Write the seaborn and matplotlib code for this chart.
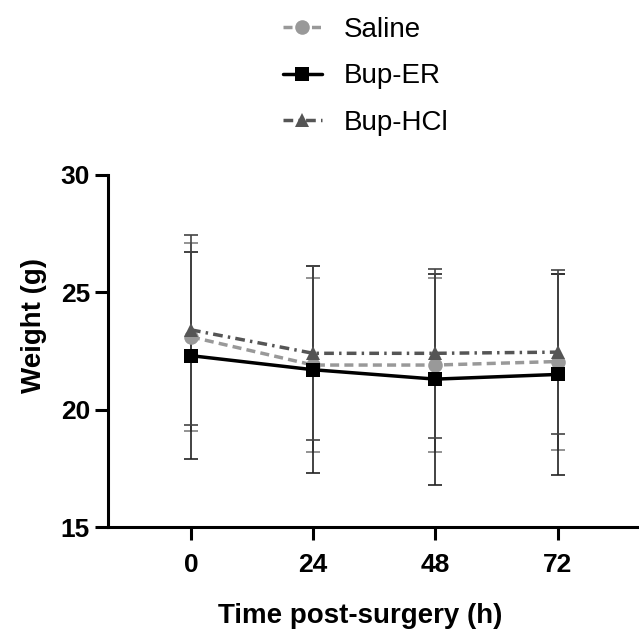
import numpy as np
import pandas as pd
import matplotlib
matplotlib.use("Agg")
import matplotlib.pyplot as plt
import seaborn as sns

# values (mean +/- SD)
times = [0, 24, 48, 72]
groups = ["Saline", "Bup-ER", "Bup-HCl"]
saline_mean = [23.1, 21.9, 21.9, 22.05]
saline_sd = [4.0, 3.7, 3.7, 3.75]
bup_er_mean = [22.3, 21.7, 21.3, 21.5]
bup_er_sd = [4.4, 4.4, 4.5, 4.3]
bup_hcl_mean = [23.4, 22.4, 22.4, 22.45]
bup_hcl_sd = [4.05, 3.7, 3.6, 3.5]
y_ticks = [15, 20, 25, 30]

sns.set_style("ticks")
plt.rcParams['font.family'] = ['Liberation Sans', 'DejaVu Sans']
plt.rcParams['text.color'] = 'black'
plt.rcParams['axes.labelcolor'] = 'black'
plt.rcParams['xtick.color'] = 'black'
plt.rcParams['ytick.color'] = 'black'
plt.rcParams['axes.edgecolor'] = 'black'

df = pd.DataFrame({
    "time": times * 3,
    "weight": saline_mean + bup_er_mean + bup_hcl_mean,
    "sd": saline_sd + bup_er_sd + bup_hcl_sd,
    "group": [g for g in groups for _ in times],
})

styles = {
    "Saline": dict(color="#999999", marker="o", dashes=(2.6, 1.5), ecolor="#808080"),
    "Bup-ER": dict(color="black", marker="s", dashes=None, ecolor="#222222"),
    "Bup-HCl": dict(color="#555555", marker="^", dashes=(2.8, 1.5, 0.7, 1.5), ecolor="#444444"),
}

fig = plt.figure(figsize=(6.39, 6.31), dpi=100)
ax = fig.add_axes([0.169, 0.1648, 0.831, 0.558])

# error bars first so the lines sit on top
for g in groups:
    sub = df[df.group == g]
    st = styles[g]
    ax.errorbar(sub.time, sub.weight, yerr=sub.sd, fmt="none", ecolor=st["ecolor"],
                elinewidth=1.2, capsize=5, capthick=1.2, zorder=1)

for g in groups:
    sub = df[df.group == g]
    st = styles[g]
    kw = dict(color=st["color"], marker=st["marker"], markersize=10.5, lw=2.5,
              markeredgewidth=0, label=g)
    if st["dashes"] is not None:
        kw["dashes"] = st["dashes"]
    sns.lineplot(data=sub, x="time", y="weight", ax=ax, errorbar=None, zorder=3, **kw)

ax.set_xlim(-16.3, 88)
ax.set_ylim(15, 30)
ax.set_xticks(times)
ax.set_yticks(y_ticks)
ax.set_xlabel("Time post-surgery (h)", fontsize=20, fontweight="bold", labelpad=19)
ax.set_ylabel("Weight (g)", fontsize=20, fontweight="bold", labelpad=10)
ax.xaxis.label.set_x(0.475)
ax.yaxis.label.set_y(0.571)
for lab in ax.get_xticklabels() + ax.get_yticklabels():
    lab.set_fontweight("bold")
ax.tick_params(axis="both", labelsize=19, width=2.2, length=9.5)
ax.tick_params(axis="x", pad=9)
ax.tick_params(axis="y", pad=3.5)
sns.despine(ax=ax)
for s in ["left", "bottom"]:
    ax.spines[s].set_linewidth(2.2)

handles, labels = ax.get_legend_handles_labels()
if ax.get_legend():
    ax.get_legend().remove()
fig.legend(handles, labels, loc="upper left", bbox_to_anchor=(0.421, 0.995),
           frameon=False, fontsize=20, handlelength=1.4, handletextpad=0.8,
           labelspacing=0.73, borderpad=0)

fig.savefig("out.png", dpi=100)
